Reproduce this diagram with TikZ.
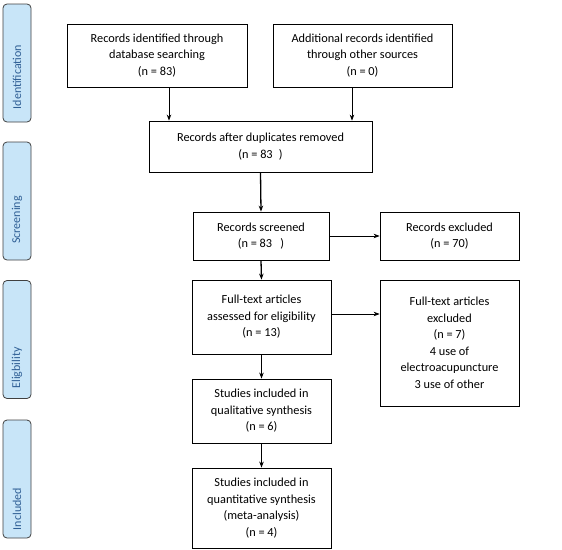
\documentclass[tikz,border=0pt]{standalone}
\usepackage{fontspec}
\setmainfont{Carlito}
\usetikzlibrary{arrows.meta}
\definecolor{phasefill}{HTML}{C8E5F8}
\definecolor{phasetext}{HTML}{2F5F95}
\begin{document}
\begin{tikzpicture}[x=1pt,y=-1pt,
  box/.style={draw,line width=0.8pt,align=center,inner sep=2pt,font=\fontsize{12.3}{16.5}\selectfont},
  phase/.style={draw=black!75,fill=phasefill,rounded corners=4pt,line width=0.8pt,minimum width=28pt,minimum height=118pt},
  phaselabel/.style={rotate=90,text=phasetext,font=\fontsize{12}{13}\selectfont},
  arr/.style={-{Stealth[length=6pt,width=4.5pt]},line width=0.7pt},
  thickarr/.style={arr,line width=1.3pt}]
\useasboundingbox (0,0) rectangle (562,549);

\node[phase] (idbar) at (17,63) {};
\node[phase] (scbar) at (17,201) {};
\node[phase] (elbar) at (17,339.5) {};
\node[phase] (inbar) at (17,479) {};
\node[phaselabel] (idtext) at (17,77) {Identification};
\node[phaselabel] (sctext) at (17,220) {Screening};
\node[phaselabel] (eltext) at (17,368) {Eligbility};
\node[phaselabel] (intext) at (17,509) {Included};

\node[box,minimum width=180pt,minimum height=63pt] (db) at (157,55.5) {Records identified through\\database searching\\(n = 83)};
\node[box,minimum width=179pt,minimum height=63pt] (other) at (362.5,55.5) {Additional records identified\\through other sources\\(n = 0)};
\node[box,minimum width=223pt,minimum height=51pt] (dup) at (260.5,146.5) {Records after duplicates removed\\(n = 83\,\,\,)};
\node[box,minimum width=136pt,minimum height=48pt] (screened) at (261,236) {Records screened\\(n = 83\,\,\,\,)};
\node[box,minimum width=139pt,minimum height=48pt] (excl) at (449.5,236) {Records excluded\\(n = 70)};
\node[box,minimum width=139pt,minimum height=74pt] (full) at (261.5,317) {Full-text articles\\assessed for eligibility\\(n = 13)};
\node[box,minimum width=139pt,minimum height=126pt] (fullexcl) at (449.5,343) {Full-text articles\\excluded\\(n = 7)\\4 use of\\electroacupuncture\\3 use of other};
\node[box,minimum width=139pt,minimum height=64pt] (qual) at (261.5,411) {Studies included in\\qualitative synthesis\\(n = 6)};
\node[box,minimum width=139pt,minimum height=80pt] (quant) at (261.5,508) {Studies included in\\quantitative synthesis\\(meta-analysis)\\(n = 4)};

\draw[arr,line width=1pt] ([xshift=12pt]db.south) -- ([xshift=12pt]db.south |- dup.north);
\draw[arr] ([xshift=-10.5pt]other.south) -- ([xshift=-10.5pt]other.south |- dup.north);
\draw[thickarr] (dup.south) -- (screened.north);
\draw[arr] (screened.east) -- (excl.west);
\draw[thickarr] (screened.south) -- (full.north);
\draw[arr] ([yshift=3pt]full.east) -- ([yshift=3pt]full.east -| fullexcl.west);
\draw[thickarr] (full.south) -- (qual.north);
\draw[thickarr] (qual.south) -- (quant.north);
\end{tikzpicture}
\end{document}
